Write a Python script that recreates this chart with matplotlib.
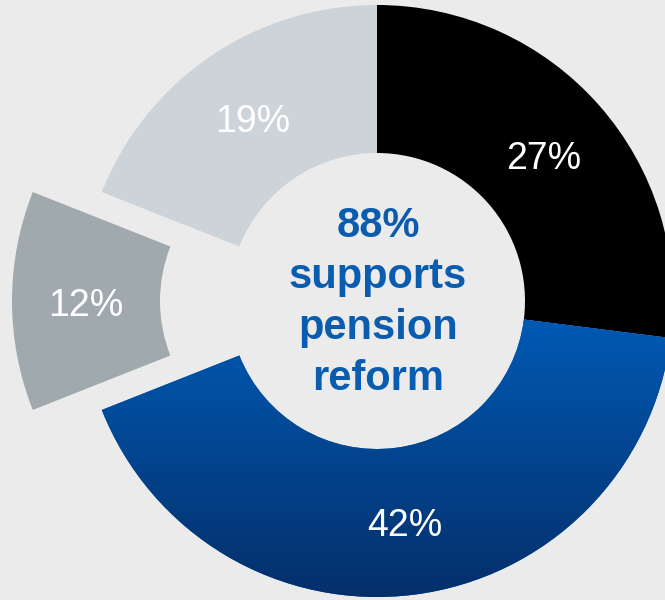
import numpy as np
import matplotlib
matplotlib.use("Agg")
import matplotlib.pyplot as plt
from matplotlib.colors import LinearSegmentedColormap

# share of respondents, clockwise from 12 o'clock
shares = [27, 42, 12, 19]
colors = ["#000000", "#0058b2", "#a0a9ae", "#ccd4da"]
explode_px = [0, 0, 69, 0]
center_lines = ["88%", "supports", "pension", "reform"]

bg = "#ebebeb"
blue_top, blue_bottom = "#005cb8", "#052f6a"

cx, cy = 377, 299
r_out, r_in = 296, 148

fig = plt.figure(figsize=(6.65, 6.0), dpi=100, facecolor=bg)
ax = fig.add_axes([0, 0, 1, 1])
ax.set_facecolor(bg)

wedges, _, pct_texts = ax.pie(
    shares,
    colors=colors,
    explode=explode_px,  # offsets are in data units here
    startangle=90,
    counterclock=False,
    radius=r_out,
    center=(cx, cy),
    autopct=lambda p: f"{p:.0f}%",
    pctdistance=(r_out + r_in) / 2 / r_out,
    wedgeprops=dict(width=r_out - r_in, linewidth=0),
    textprops=dict(color="white", fontsize=27, family="Liberation Sans"),
)

# vertical gradient on the large blue segment
blue = wedges[1]
cmap = LinearSegmentedColormap.from_list("blues", [blue_bottom, blue_top])
grad = np.linspace(0, 1, 256).reshape(-1, 1)
img = ax.imshow(grad, cmap=cmap, extent=(cx - r_out, cx + r_out, cy - r_out, cy),
                origin="lower", aspect="auto", zorder=blue.get_zorder() + 0.1)
img.set_clip_path(blue)
for t in pct_texts:
    x, y = t.get_position()
    t.set_position((x, y - 5))  # optical centring of the digits
    t.set_zorder(5)

# centre caption, one baseline per line
step = 51
first = cy + 64
for i, line in enumerate(center_lines):
    ax.text(cx + 1, first - i * step, line, ha="center", va="baseline",
            color="#0a5cae", fontsize=30, fontweight="bold",
            family="Liberation Sans", zorder=6)

ax.set_xlim(0, 665)
ax.set_ylim(0, 600)
ax.set_aspect("equal")
ax.axis("off")

fig.savefig("out.png", dpi=100, facecolor=bg)
